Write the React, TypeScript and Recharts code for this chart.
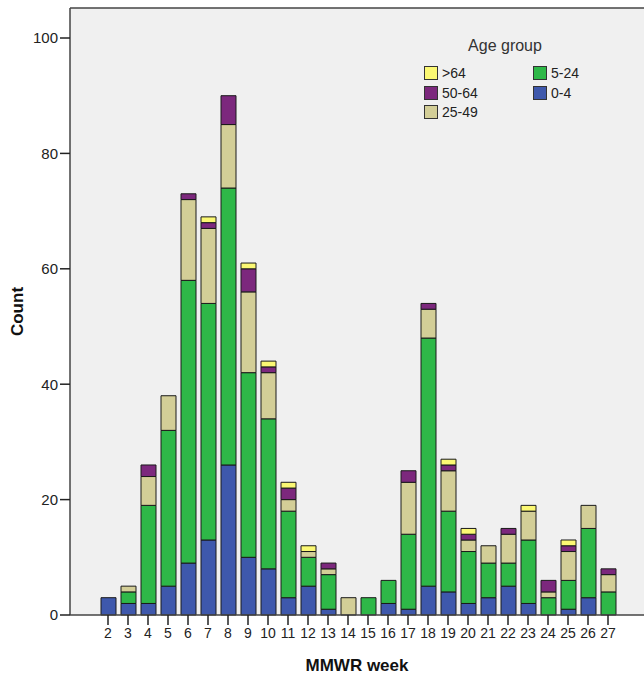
import { BarChart, Bar, XAxis, YAxis, CartesianGrid, Legend, ReferenceLine } from "recharts";

const weeks = [
  "2", "3", "4", "5", "6", "7", "8", "9", "10", "11", "12", "13", "14",
  "15", "16", "17", "18", "19", "20", "21", "22", "23", "24", "25", "26", "27",
];

// counts per MMWR week
const age0to4 = [3, 2, 2, 5, 9, 13, 26, 10, 8, 3, 5, 1, 0, 0, 2, 1, 5, 4, 2, 3, 5, 2, 0, 1, 3, 0];
const age5to24 = [0, 2, 17, 27, 49, 41, 48, 32, 26, 15, 5, 6, 0, 3, 4, 13, 43, 14, 9, 6, 4, 11, 3, 5, 12, 4];
const age25to49 = [0, 1, 5, 6, 14, 13, 11, 14, 8, 2, 1, 1, 3, 0, 0, 9, 5, 7, 2, 3, 5, 5, 1, 5, 4, 3];
const age50to64 = [0, 0, 2, 0, 1, 1, 5, 4, 1, 2, 0, 1, 0, 0, 0, 2, 1, 1, 1, 0, 1, 0, 2, 1, 0, 1];
const ageOver64 = [0, 0, 0, 0, 0, 1, 0, 1, 1, 1, 1, 0, 0, 0, 0, 0, 0, 1, 1, 0, 0, 1, 0, 1, 0, 0];

const yTicks = [0, 20, 40, 60, 80, 100];

const series = [
  { key: "a0", name: "0-4", values: age0to4, color: "#3E58AC" },
  { key: "a5", name: "5-24", values: age5to24, color: "#2EB848" },
  { key: "a25", name: "25-49", values: age25to49, color: "#D3CE97" },
  { key: "a50", name: "50-64", values: age50to64, color: "#7C287D" },
  { key: "a65", name: ">64", values: ageOver64, color: "#FBF873" },
];

const data = weeks.map((week, i) => {
  const row: Record<string, string | number> = { week };
  series.forEach((s) => {
    row[s.key] = s.values[i];
  });
  return row;
});

const FONT = '"Liberation Sans", Arial, sans-serif';
const Y_TOP = 105.2;

function AgeLegend({ payload }: any) {
  // top of the stack first, like the SPSS legend
  const order = series.map((s) => s.name).reverse();
  const items = order
    .map((name) => (payload || []).find((p: any) => p.value === name))
    .filter(Boolean);
  return (
    <div style={{ fontFamily: FONT, color: "#222" }}>
      <div style={{ textAlign: "center", fontSize: 16, lineHeight: "20px", color: "#333" }}>
        Age group
      </div>
      <div
        style={{
          display: "grid",
          gridAutoFlow: "column",
          gridTemplateRows: "repeat(3, 14px)",
          gridTemplateColumns: "109px 71px",
          rowGap: 5.5,
          marginTop: 10,
          paddingLeft: 9,
        }}
      >
        {items.map((item: any) => (
          <div key={item.value} style={{ display: "flex", alignItems: "center", height: 14 }}>
            <span
              style={{
                width: 12,
                height: 12,
                background: item.color,
                border: "1px solid #333",
                display: "inline-block",
              }}
            />
            <span style={{ fontSize: 14, marginLeft: 4, lineHeight: "14px" }}>{item.value}</span>
          </div>
        ))}
      </div>
    </div>
  );
}

export default function App() {
  return (
    <div style={{ position: "absolute", left: 0, top: 0, background: "#fff" }}>
      <BarChart
        width={644}
        height={679}
        data={data}
        margin={{ top: 8, right: 0, bottom: 0, left: 0 }}
        barSize={15}
      >
        <CartesianGrid fill="#F0F0F0" horizontal={false} vertical={false} />
        <XAxis
          dataKey="week"
          height={64}
          padding={{ left: 28, right: 26 }}
          interval={0}
          tickSize={10}
          tickMargin={3}
          axisLine={{ stroke: "#444", strokeWidth: 1.5 }}
          tickLine={{ stroke: "#222", strokeWidth: 1.5 }}
          tick={{ fill: "#222", fontSize: 14, fontFamily: FONT }}
          label={{
            content: ({ viewBox }: any) => (
              <text
                x={viewBox.x + viewBox.width / 2}
                y={671}
                textAnchor="middle"
                fontFamily={FONT}
                fontSize={17}
                fontWeight="bold"
                fill="#111"
              >
                MMWR week
              </text>
            ),
          }}
        />
        <YAxis
          width={70}
          domain={[0, Y_TOP]}
          ticks={yTicks}
          tickSize={10}
          tickMargin={2}
          axisLine={{ stroke: "#444", strokeWidth: 1.5 }}
          tickLine={{ stroke: "#222", strokeWidth: 1.5 }}
          tick={{ fill: "#222", fontSize: 15, fontFamily: FONT }}
          label={{
            content: ({ viewBox }: any) => {
              const cy = viewBox.y + viewBox.height / 2;
              return (
                <text
                  x={23}
                  y={cy}
                  transform={`rotate(-90, 23, ${cy})`}
                  textAnchor="middle"
                  fontFamily={FONT}
                  fontSize={17}
                  fontWeight="bold"
                  fill="#111"
                >
                  Count
                </text>
              );
            },
          }}
        />
        <ReferenceLine y={Y_TOP} stroke="#444" strokeWidth={1.5} />
        <Legend
          layout="horizontal"
          verticalAlign="middle"
          align="center"
          content={<AgeLegend />}
          wrapperStyle={{ left: 415, top: 36, width: 180, height: 90 }}
        />
        {series.map((s) => (
          <Bar
            key={s.key}
            dataKey={s.key}
            name={s.name}
            stackId="age"
            fill={s.color}
            stroke="#1a1a1a"
            strokeWidth={1}
            isAnimationActive={false}
          />
        ))}
      </BarChart>
    </div>
  );
}
